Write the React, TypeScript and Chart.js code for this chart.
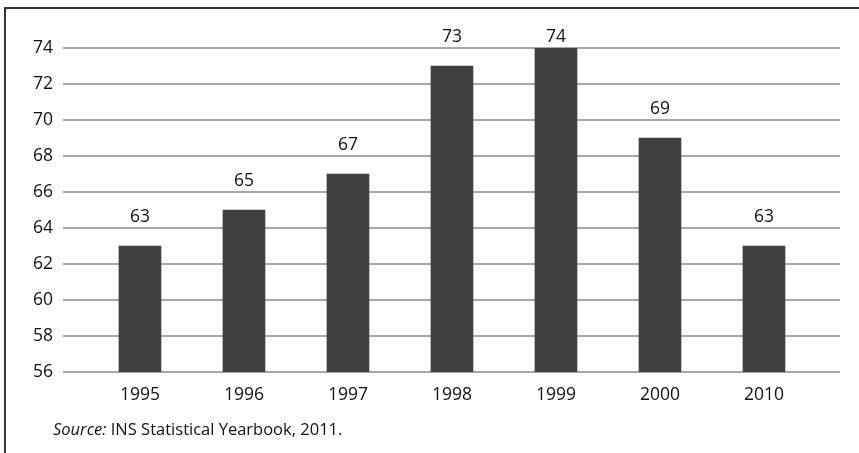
import React, { useEffect, useRef } from "react";
import { Chart, registerables } from "chart.js";

Chart.register(...registerables);

const categories = ["1995", "1996", "1997", "1998", "1999", "2000", "2010"];
const values = [63, 65, 67, 73, 74, 69, 63];
const yMin = 56;
const yMax = 74;
const yStep = 2;
const sourceLabel = "Source:";
const sourceText = " INS Statistical Yearbook, 2011.";

const FONT = "'Open Sans', 'Noto Sans', sans-serif";

const valueLabels = {
  id: "valueLabels",
  afterDatasetsDraw(chart: any) {
    const ctx = chart.ctx;
    const meta = chart.getDatasetMeta(0);
    const minBaseline = chart.chartArea.top - 6;
    ctx.save();
    ctx.font = `17.5px ${FONT}`;
    ctx.fillStyle = "#111";
    ctx.textAlign = "center";
    ctx.textBaseline = "alphabetic";
    meta.data.forEach((bar: any, i: number) => {
      ctx.fillText(String(values[i]), bar.x, Math.max(bar.y - 24, minBaseline));
    });
    ctx.restore();
  },
};

export default function App() {
  const ref = useRef<HTMLCanvasElement | null>(null);
  useEffect(() => {
    if (!ref.current) return;
    const chart = new Chart(ref.current, {
      type: "bar",
      data: {
        datasets: [
          {
            data: values.map((v, i) => ({ x: i, y: v })),
            backgroundColor: "#404040",
            borderWidth: 0,
            barThickness: 42,
          },
        ],
      },
      options: {
        responsive: false,
        animation: false,
        layout: { padding: { top: 48, left: 0, right: 19, bottom: 41 } },
        plugins: { legend: { display: false }, tooltip: { enabled: false } },
        scales: {
          x: {
            type: "linear",
            offset: false,
            min: -0.74,
            max: 6.731,
            grid: { display: false, offset: false },
            border: { display: false },
            afterBuildTicks: (axis: any) => {
              axis.ticks = categories.map((_, i) => ({ value: i }));
            },
            afterFit: (axis: any) => {
              axis.height = 40;
            },
            ticks: {
              autoSkip: false,
              maxRotation: 0,
              padding: 5,
              color: "#111",
              font: { family: FONT, size: 17.5 },
              callback: (v: any) => categories[Math.round(Number(v))] ?? "",
            },
          },
          y: {
            min: yMin,
            max: yMax,
            grid: { color: "#a8a8a8", lineWidth: 2, drawTicks: false },
            border: { display: false },
            afterFit: (axis: any) => {
              axis.width = 63;
            },
            ticks: {
              stepSize: yStep,
              padding: 10,
              color: "#111",
              font: { family: FONT, size: 17.5 },
            },
          },
        },
      },
      plugins: [valueLabels],
    });
    return () => chart.destroy();
  }, []);

  return (
    <div style={{ position: "fixed", left: 0, top: 0, width: 859, height: 453, background: "#fff", overflow: "hidden" }}>
      <canvas ref={ref} width={859} height={453} style={{ position: "absolute", left: 0, top: 0 }} />
      <div
        style={{
          position: "absolute",
          left: 4,
          top: 7,
          width: 860,
          height: 450,
          borderTop: "2px solid #333",
          borderLeft: "2px solid #333",
          pointerEvents: "none",
        }}
      />
      <div
        style={{
          position: "absolute",
          left: 53,
          top: 418,
          fontFamily: FONT,
          fontSize: 16.5,
          color: "#111",
          whiteSpace: "pre",
          lineHeight: "22px",
        }}
      >
        <i>{sourceLabel}</i>
        {sourceText}
      </div>
    </div>
  );
}
